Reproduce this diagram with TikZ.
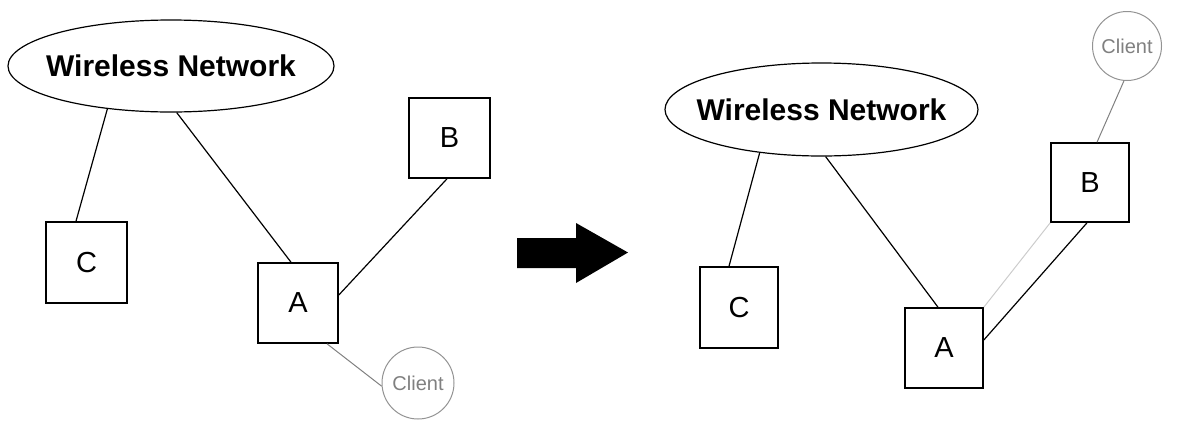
\documentclass[tikz,border=0pt]{standalone}
\usepackage{fontspec}
\setmainfont{Liberation Sans}
\usetikzlibrary{shapes.geometric,calc}
\tikzset{
  netell/.style={draw=black,line width=1.2pt,ellipse,inner sep=0pt},
  nettext/.style={inner sep=0pt,font=\fontsize{30}{30}\selectfont\bfseries},
  hostbox/.style={draw=black,line width=1.6pt,rectangle,inner sep=0pt,font=\fontsize{29}{29}\selectfont},
  clientnode/.style={draw=gray!85,line width=1pt,circle,inner sep=0pt,text=gray,font=\fontsize{20}{20}\selectfont},
  wire/.style={draw=black,line width=1.2pt},
  graywire/.style={draw=gray,line width=1pt},
  lightwire/.style={draw=black!20,line width=1pt},
}
\begin{document}
\begin{tikzpicture}[x=1pt,y=-1pt]
\useasboundingbox (0,0) rectangle (1182,421);
% ---------- left panel ----------
\node[netell,minimum width=326pt,minimum height=92pt] (wl) at (171,66) {};
\node[nettext] (wlt) at (wl.center) {Wireless Network};
\node[hostbox,minimum width=81pt,minimum height=81pt] (cl) at (86.5,262.5) {C};
\node[hostbox,minimum width=80pt,minimum height=80pt] (al) at (298,303) {A};
\node[hostbox,minimum width=81pt,minimum height=80pt] (bl) at (449.5,138) {B};
\node[clientnode,minimum size=72pt] (kl) at (418,383) {Client};
\draw[wire] (wl.214) -- ($(cl.north)+(-10.5,0)$);
\draw[wire] (wl.277) -- ($(al.north)+(-7,0)$);
\draw[wire] ($(bl.south)+(-2.5,0)$) -- ($(al.east)+(0,-8)$);
\draw[graywire] ($(al.south)+(29,0)$) -- (kl.185);
% ---------- arrow ----------
\fill[black] (517,238) -- (576,238) -- (576,223) -- (628,252.5) -- (576,283) -- (576,268) -- (517,268) -- cycle;
% ---------- right panel ----------
\node[netell,minimum width=313pt,minimum height=93pt] (wr) at (821.5,109.5) {};
\node[nettext] (wrt) at (wr.center) {Wireless Network};
\node[hostbox,minimum width=78pt,minimum height=81pt] (cr) at (739,307.5) {C};
\node[hostbox,minimum width=78pt,minimum height=80pt] (ar) at (944,348) {A};
\node[hostbox,minimum width=78pt,minimum height=79pt] (br) at (1090,182.5) {B};
\node[clientnode,minimum size=69pt] (kr) at (1127,46) {Client};
\draw[wire] (wr.215.7) -- ($(cr.north)+(-10,0)$);
\draw[wire] (wr.275.4) -- ($(ar.north)+(-6,0)$);
\draw[wire] ($(br.south)+(-3,0)$) -- ($(ar.east)+(0,-8)$);
\draw[lightwire] (br.south west) -- (ar.north east);
\draw[graywire] (kr.265) -- ($(br.north)+(7,0)$);
\end{tikzpicture}
\end{document}
